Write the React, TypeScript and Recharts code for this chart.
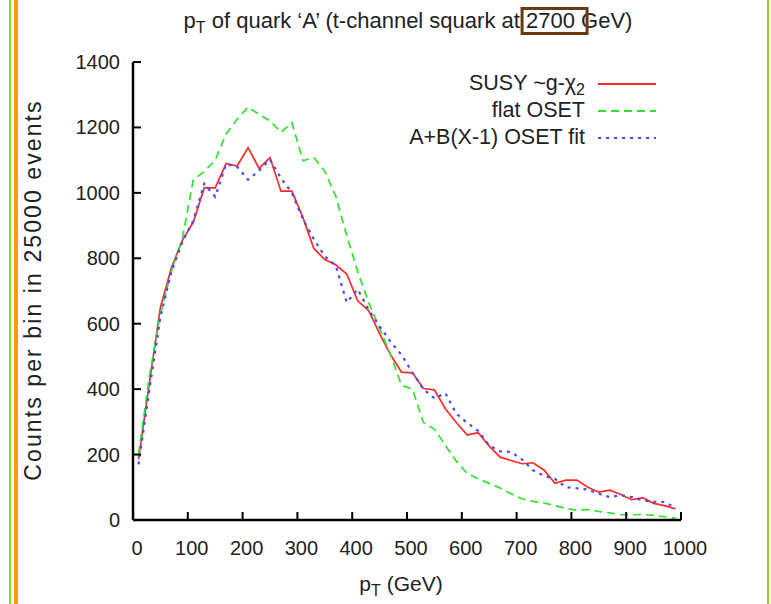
import React from "react";
import { LineChart, Line, XAxis, YAxis, Legend } from "recharts";

// bin centres (GeV), 20 GeV bins
const pT = [
  10, 30, 50, 70, 90, 110, 130, 150, 170, 190, 210, 230, 250, 270, 290, 310, 330, 350, 370, 390,
  410, 430, 450, 470, 490, 510, 530, 550, 570, 590, 610, 630, 650, 670, 690, 710, 730, 750, 770, 790,
  810, 830, 850, 870, 890, 910, 930, 950, 970, 990,
];

const susy = [
  185, 420, 650, 770, 855, 910, 1015, 1015, 1090, 1082, 1138, 1075, 1108, 1005, 1005, 925, 830, 796, 780, 752,
  670, 640, 570, 505, 452, 450, 402, 398, 340, 298, 260, 267, 226, 192, 182, 172, 175, 153, 112, 122,
  122, 100, 85, 91, 78, 62, 68, 51, 44, 34,
];

const flatOset = [
  200, 440, 630, 760, 860, 1040, 1065, 1100, 1180, 1225, 1262, 1240, 1220, 1185, 1215, 1098, 1108, 1066, 990, 870,
  760, 665, 585, 505, 412, 400, 298, 278, 228, 180, 142, 126, 112, 98, 80, 65, 57, 52, 44, 35,
  30, 32, 26, 22, 16, 16, 17, 14, 10, 6,
];

const osetFit = [
  170, 400, 620, 760, 850, 915, 1028, 988, 1088, 1080, 1040, 1068, 1102, 1045, 1000, 920, 858, 806, 778, 665,
  705, 643, 592, 545, 505, 450, 400, 372, 388, 325, 297, 272, 228, 210, 208, 185, 152, 135, 126, 100,
  97, 93, 80, 70, 76, 70, 60, 56, 55, 37,
];

const xTicks = [0, 100, 200, 300, 400, 500, 600, 700, 800, 900, 1000];
const yTicks = [0, 200, 400, 600, 800, 1000, 1200, 1400];
const legendOrder = ["susy", "flat", "fit"];

const data = pT.map((x, i) => ({ x, susy: susy[i], flat: flatOset[i], fit: osetFit[i] }));

const FONT = "'Liberation Sans', Arial, sans-serif";
const TXT = "#222";

const BottomTick = (props: any) => {
  const { x, y, payload } = props;
  return (
    <g>
      <line x1={x} y1={y} x2={x} y2={y - 8} stroke="#000" strokeWidth={2} />
      <text x={x + 4} y={y + 35} textAnchor="middle" fontSize={20} fill={TXT} fontFamily={FONT}>
        {payload.value}
      </text>
    </g>
  );
};

const TopTick = (props: any) => {
  const { x, y } = props;
  return <line x1={x} y1={y} x2={x} y2={y + 8} stroke="#000" strokeWidth={2} />;
};

const LeftTick = (props: any) => {
  const { x, y, payload } = props;
  return (
    <g>
      <line x1={x} y1={y} x2={x + 8} y2={y} stroke="#000" strokeWidth={2} />
      <text x={x - 13} y={y + 7} textAnchor="end" fontSize={20} fill={TXT} fontFamily={FONT}>
        {payload.value}
      </text>
    </g>
  );
};

const RightTick = (props: any) => {
  const { x, y } = props;
  return <line x1={x} y1={y} x2={x - 8} y2={y} stroke="#000" strokeWidth={2} />;
};

const LegendBox = (props: any) => {
  const items = [...(props.payload || [])].sort(
    (a: any, b: any) => legendOrder.indexOf(a.dataKey) - legendOrder.indexOf(b.dataKey)
  );
  return (
    <div style={{ fontFamily: FONT, fontSize: 21.5, color: TXT }}>
      {items.map((p: any) => (
        <div key={p.dataKey} style={{ display: "flex", alignItems: "center", justifyContent: "flex-end", height: 27 }}>
          <span style={{ whiteSpace: "nowrap" }}>
            {p.dataKey === "susy" ? (
              <>
                SUSY ~g-χ<span style={{ fontSize: 16, position: "relative", top: 5 }}>2</span>
              </>
            ) : (
              p.value
            )}
          </span>
          <svg width={72} height={10} style={{ marginLeft: 11 }}>
            <line
              x1={2}
              y1={5}
              x2={60}
              y2={5}
              stroke={p.color}
              strokeWidth={2}
              strokeDasharray={p.payload.strokeDasharray}
            />
          </svg>
        </div>
      ))}
    </div>
  );
};

export default function App() {
  return (
    <div style={{ position: "absolute", left: 0, top: 0, width: 771, height: 604, background: "#fff", overflow: "hidden" }}>
      <div style={{ position: "absolute", left: 9, top: 0, width: 2, height: 604, background: "#9acd32" }} />
      <div style={{ position: "absolute", left: 14, top: 0, width: 4, height: 604, background: "#ff9a00" }} />
      <div style={{ position: "absolute", left: 767, top: 0, width: 2, height: 604, background: "#9acd32" }} />

      <div
        style={{
          position: "absolute",
          left: 408,
          top: 7,
          transform: "translateX(-50%)",
          whiteSpace: "nowrap",
          fontFamily: FONT,
          fontSize: 22,
          color: TXT,
          lineHeight: "28px",
        }}
      >
        p<span style={{ fontSize: 16, position: "relative", top: 5 }}>T</span> of quark ‘A’ (t-channel squark at{" "}
        <span style={{ position: "relative" }}>
          2700
          <span
            style={{
              position: "absolute",
              left: -5,
              right: -14,
              top: -1,
              bottom: -2,
              border: "3px solid #6b3a12",
            }}
          />
        </span>{" "}
        GeV)
      </div>

      <div
        style={{
          position: "absolute",
          left: 33,
          top: 290,
          transform: "translate(-50%, -50%) rotate(-90deg)",
          whiteSpace: "nowrap",
          fontFamily: FONT,
          fontSize: 23,
          letterSpacing: 2.1,
          color: TXT,
        }}
      >
        Counts per bin in 25000 events
      </div>

      <div
        style={{
          position: "absolute",
          left: 401,
          top: 572,
          transform: "translateX(-50%)",
          whiteSpace: "nowrap",
          fontFamily: FONT,
          fontSize: 21,
          color: TXT,
        }}
      >
        p<span style={{ fontSize: 16, position: "relative", top: 5 }}>T</span> (GeV)
      </div>

      <LineChart width={771} height={604} data={data} margin={{ top: 62, right: 90, bottom: 0, left: 0 }}>
        <XAxis
          dataKey="x"
          type="number"
          domain={[0, 1000]}
          ticks={xTicks}
          interval={0}
          height={84}
          tickSize={0}
          tickMargin={0}
          tickLine={false}
          axisLine={{ stroke: "#000", strokeWidth: 2.5 }}
          tick={<BottomTick />}
        />
        <XAxis
          xAxisId="top"
          orientation="top"
          dataKey="x"
          type="number"
          domain={[0, 1000]}
          ticks={xTicks}
          interval={0}
          height={0}
          tickSize={0}
          tickMargin={0}
          tickLine={false}
          axisLine={{ stroke: "#000", strokeWidth: 2.5 }}
          tick={<TopTick />}
        />
        <YAxis
          type="number"
          domain={[0, 1400]}
          ticks={yTicks}
          interval={0}
          width={133}
          tickSize={0}
          tickMargin={0}
          tickLine={false}
          axisLine={{ stroke: "#000", strokeWidth: 2.5 }}
          tick={<LeftTick />}
        />
        <YAxis
          yAxisId="right"
          orientation="right"
          type="number"
          domain={[0, 1400]}
          ticks={yTicks}
          interval={0}
          width={0}
          tickSize={0}
          tickMargin={0}
          tickLine={false}
          axisLine={{ stroke: "#000", strokeWidth: 2.5 }}
          tick={<RightTick />}
        />
        <Legend
          verticalAlign="middle"
          align="center"
          layout="vertical"
          content={<LegendBox />}
          wrapperStyle={{ top: 70, left: 250, width: 418 }}
        />
        <Line
          name="SUSY ~g-χ2"
          dataKey="susy"
          stroke="#ff2a2a"
          strokeWidth={1.7}
          dot={false}
          type="linear"
          isAnimationActive={false}
        />
        <Line
          name="flat OSET"
          dataKey="flat"
          stroke="#2ee22e"
          strokeWidth={1.7}
          strokeDasharray="8 5"
          dot={false}
          type="linear"
          isAnimationActive={false}
        />
        <Line
          name="A+B(X-1) OSET fit"
          dataKey="fit"
          stroke="#4a4af5"
          strokeWidth={2.2}
          strokeDasharray="3 5"
          dot={false}
          type="linear"
          isAnimationActive={false}
        />
      </LineChart>
    </div>
  );
}
